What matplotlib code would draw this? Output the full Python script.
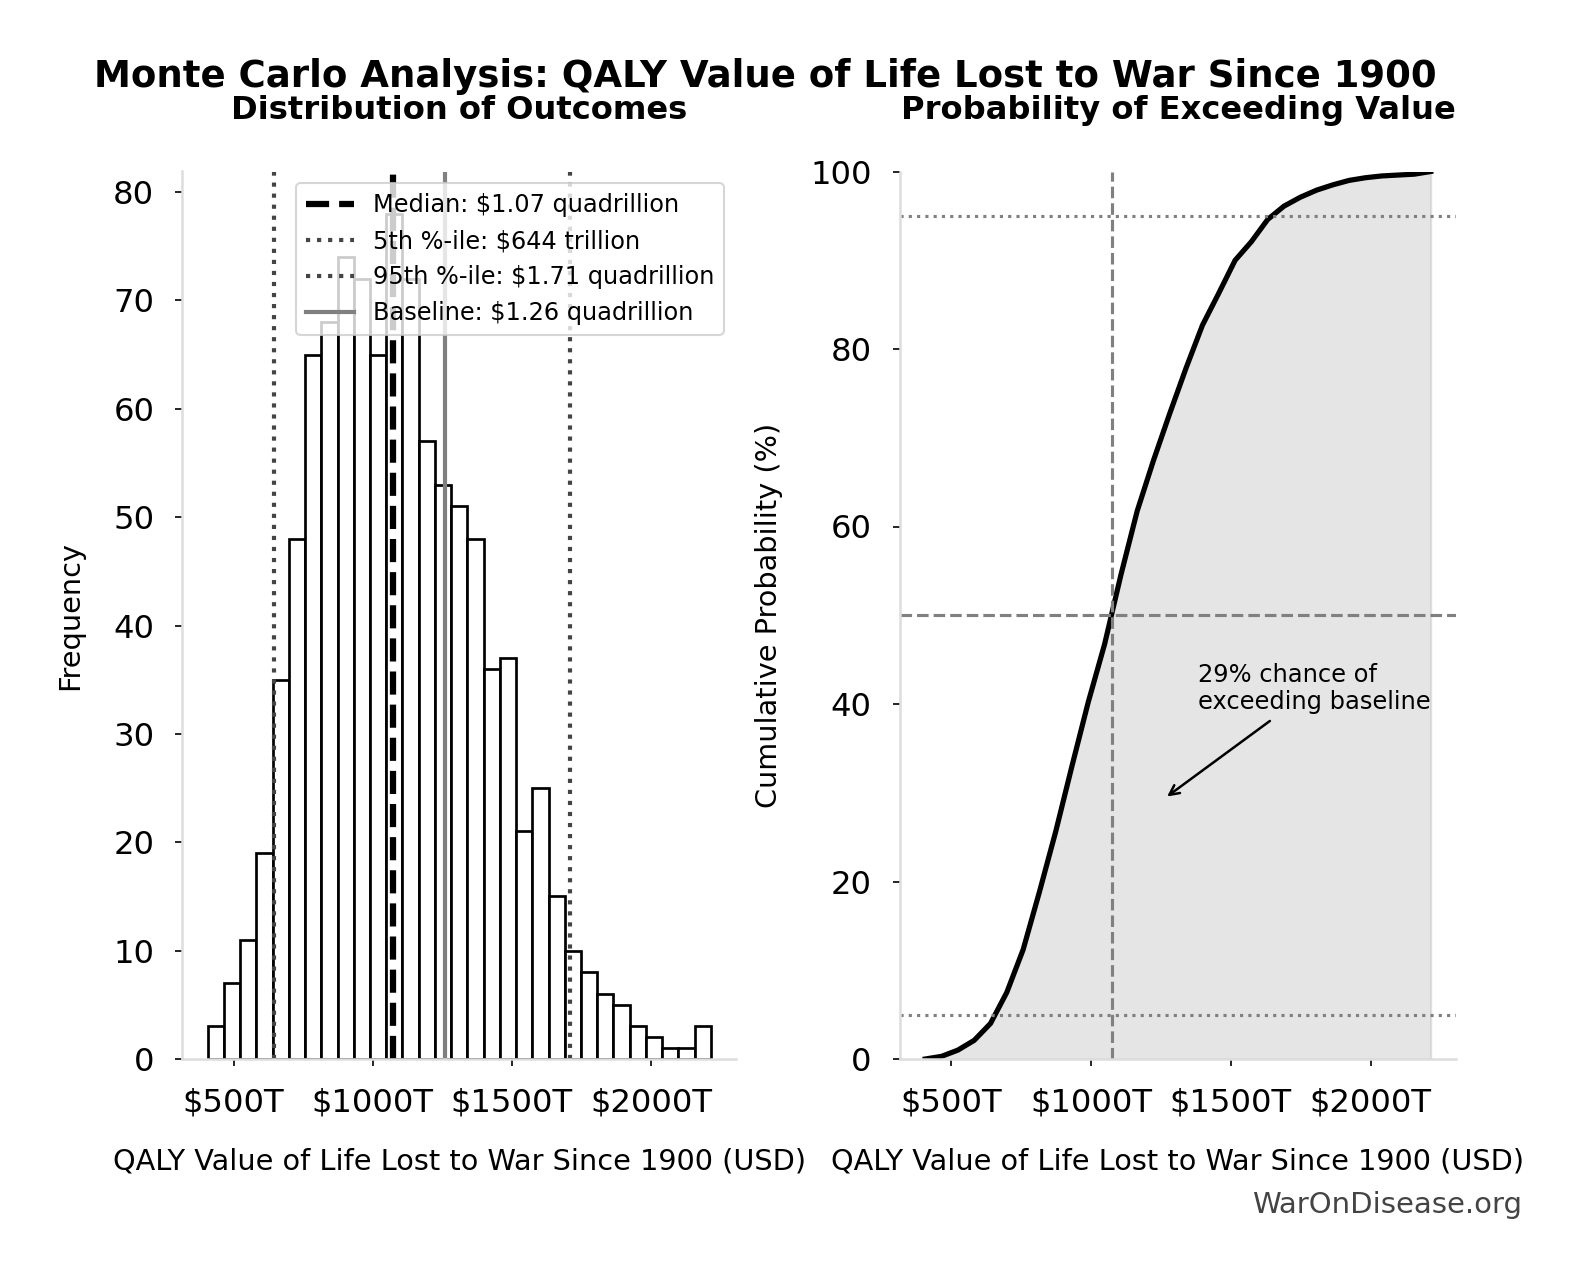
import matplotlib
matplotlib.use("Agg")
import matplotlib.pyplot as plt
import numpy as np
from matplotlib.ticker import FuncFormatter

# histogram (values in trillions of USD)
bin_start = 407.0
bin_end = 2215.0
counts = [3, 7, 11, 19, 35, 48, 65, 68, 74, 72, 65, 78, 72, 57, 53, 51,
          48, 36, 37, 21, 25, 15, 10, 8, 6, 5, 3, 2, 1, 1, 3]

median_t = 1074
p5_t = 644
p95_t = 1710
baseline_t = 1260
prob_exceed = 29

legend_labels = ["Median: $1.07 quadrillion", "5th %-ile: $644 trillion",
                 "95th %-ile: $1.71 quadrillion", "Baseline: $1.26 quadrillion"]
x_ticks = [500, 1000, 1500, 2000]
xlabel = "QALY Value of Life Lost to War Since 1900 (USD)"

edges = np.linspace(bin_start, bin_end, len(counts) + 1)
cdf = np.concatenate([[0], np.cumsum(counts)]) / sum(counts) * 100

W, H = 1581, 1280
fig = plt.figure(figsize=(W / 150, H / 150), dpi=150)
ax1 = fig.add_axes([182.5 / W, 1 - 1059 / H, 553.5 / W, 887.5 / H])
ax2 = fig.add_axes([900 / W, 1 - 1059 / H, 556 / W, 887.5 / H])

money = FuncFormatter(lambda v, _: f"${v:.0f}T")
label_fs = 13.8

# left: histogram
ax1.bar(edges[:-1], counts, width=np.diff(edges), align="edge",
        color="white", edgecolor="black", linewidth=1.3)
ax1.axvline(median_t, color="black", linestyle="--", linewidth=3,
            label=legend_labels[0])
ax1.axvline(p5_t, color="#444444", linestyle=":", linewidth=2,
            label=legend_labels[1])
ax1.axvline(p95_t, color="#444444", linestyle=":", linewidth=2,
            label=legend_labels[2])
ax1.axvline(baseline_t, color="gray", linestyle="-", linewidth=2,
            label=legend_labels[3])
ax1.set_ylabel("Frequency", fontsize=label_fs, labelpad=14)
ax1.set_title("Distribution of Outcomes", fontsize=15.4, fontweight="bold", pad=25)
ax1.legend(loc="upper right", fontsize=11.5)

# right: cumulative probability
ax2.plot(edges, cdf, color="black", linewidth=2.5)
ax2.fill_between(edges, cdf, color="gray", alpha=0.2)
ax2.axvline(median_t, color="gray", linestyle="--", linewidth=1.5)
ax2.axhline(50, color="gray", linestyle="--", linewidth=1.5)
ax2.axhline(5, color="gray", linestyle=":", linewidth=1.5)
ax2.axhline(95, color="gray", linestyle=":", linewidth=1.5)
ax2.set_ylim(0, 100)
ax2.set_ylabel("Cumulative Probability (%)", fontsize=label_fs, labelpad=13)
ax2.set_title("Probability of Exceeding Value", fontsize=15.4, fontweight="bold", pad=25)
ax2.annotate(f"{prob_exceed}% chance of\nexceeding baseline",
             xy=(baseline_t, 29.3), xytext=(1382, 39.4), fontsize=11.6,
             arrowprops=dict(arrowstyle="->", color="black", lw=1.2))

for ax in (ax1, ax2):
    ax.set_xticks(x_ticks)
    ax.xaxis.set_major_formatter(money)
    ax.set_xlabel(xlabel, fontsize=label_fs, labelpad=14)
    ax.tick_params(labelsize=15.5, pad=10)
    for side in ("top", "right"):
        ax.spines[side].set_visible(False)
    for side in ("left", "bottom"):
        ax.spines[side].set_color("#dddddd")
        ax.spines[side].set_linewidth(1.2)

fig.text(765.5 / W, 1 - 86.7 / H,
         "Monte Carlo Analysis: QALY Value of Life Lost to War Since 1900",
         ha="center", va="baseline", fontsize=17.8, fontweight="bold")
fig.text(1522 / W, 1 - 1213 / H, "WarOnDisease.org", ha="right",
         va="baseline", fontsize=14, color="#444444")

fig.savefig("out.png", dpi=150)
